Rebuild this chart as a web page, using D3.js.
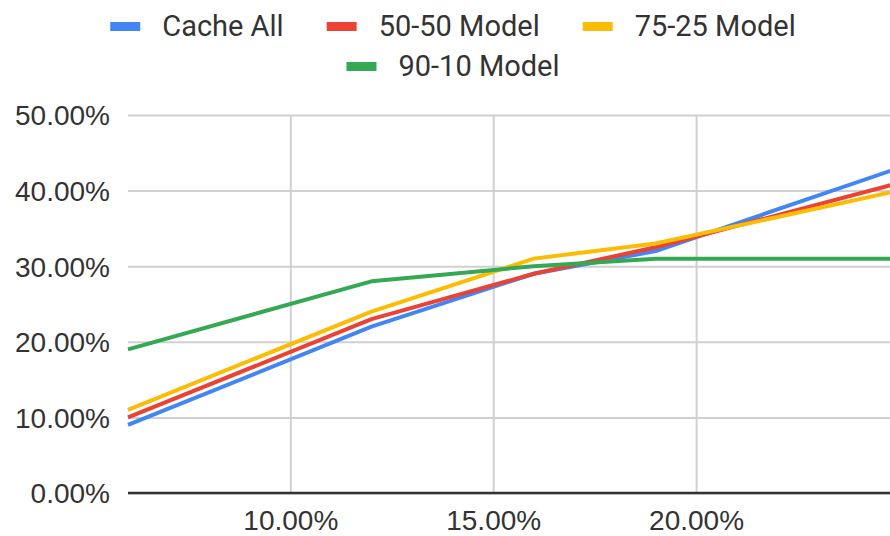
<!DOCTYPE html>
<html>
<head>
<meta charset="utf-8">
<script src="https://cdn.jsdelivr.net/npm/d3@7"></script>
<style>
    body { margin: 0; background: #fff; }
    svg { display: block; font-family: Roboto, Arial, sans-serif; }
    .grid line { stroke: #d0d0d0; stroke-width: 2; }
    .grid .domain { display: none; }
    .tick text { fill: #333; font-size: 28px; }
    .legend text { fill: #333; font-size: 29px; }
</style>
</head>
<body>
<div id="chart"></div>
<script>
// Cache size share (x) vs hit rate (y), both in percent
const cacheSizes = [6, 12, 16, 19, 25];
const cacheAll = [9, 22, 29, 32, 43];
const model5050 = [10, 23, 29, 32.5, 41];
const model7525 = [11, 24, 31, 33, 40];
const model9010 = [19, 28, 30, 31, 31];

const seriesNames = ["Cache All", "50-50 Model", "75-25 Model", "90-10 Model"];
const seriesColors = ["#4285f4", "#ea4335", "#fbbc04", "#34a853"];
const seriesValues = [cacheAll, model5050, model7525, model9010];

const xTicks = [10, 15, 20];
const yTicks = [0, 10, 20, 30, 40, 50];

// ---------- setup ----------
const width = 890;
const height = 536;

const svg = d3.select("#chart")
    .append("svg")
    .attr("width", width)
    .attr("height", height);

const xScale = d3.scaleLinear()
    .domain([6, 25])
    .range([128, 899]);

const yScale = d3.scaleLinear()
    .domain([0, 50])
    .range([493, 115]);

const pct = d => d.toFixed(2) + "%";

// horizontal gridlines + y labels
const yAxis = svg.append("g")
    .attr("class", "grid")
    .attr("transform", `translate(${xScale.range()[0]}, 0)`)
    .call(d3.axisLeft(yScale)
        .tickValues(yTicks)
        .tickSize(-(width - xScale.range()[0]))
        .tickPadding(18)
        .tickFormat(pct));

yAxis.selectAll(".tick text").attr("dy", "0.35em");

// vertical gridlines + x labels
const xAxis = svg.append("g")
    .attr("class", "grid")
    .attr("transform", `translate(0, ${yScale(0)})`)
    .call(d3.axisBottom(xScale)
        .tickValues(xTicks)
        .tickSize(-(yScale(0) - yScale(50)))
        .tickPadding(0)
        .tickFormat(pct));

xAxis.selectAll(".tick text").attr("dy", null).attr("y", 37);

// baseline
svg.append("line")
    .attr("x1", xScale.range()[0])
    .attr("x2", width)
    .attr("y1", yScale(0))
    .attr("y2", yScale(0))
    .attr("stroke", "#333")
    .attr("stroke-width", 2.5);

// ---------- lines ----------
const lineData = seriesNames.map((name, i) => ({
    name: name,
    color: seriesColors[i],
    values: cacheSizes.map((x, j) => ({ x: x, y: seriesValues[i][j] }))
}));

const lineGenerator = d3.line()
    .x(d => xScale(d.x))
    .y(d => yScale(d.y));

svg.append("g")
    .selectAll("path")
    .data(lineData)
    .enter()
    .append("path")
    .attr("fill", "none")
    .attr("stroke", d => d.color)
    .attr("stroke-width", 4)
    .attr("stroke-linejoin", "round")
    .attr("d", d => lineGenerator(d.values));

// ---------- legend ----------
const legend = svg.append("g").attr("class", "legend");
const legendRows = [[0, 1, 2], [3]];
const legendCenter = 453;
const rowBaselines = [36, 76];

legendRows.forEach((row, r) => {
    const items = row.map(i => {
        const g = legend.append("g");
        g.append("rect")
            .attr("width", 30)
            .attr("height", 9)
            .attr("y", -14)
            .attr("fill", seriesColors[i]);
        const t = g.append("text")
            .attr("x", 52)
            .text(seriesNames[i]);
        return { g: g, w: 52 + t.node().getComputedTextLength() };
    });
    const gap = 43;
    const total = d3.sum(items, d => d.w) + gap * (items.length - 1);
    let x = legendCenter - total / 2;
    items.forEach(item => {
        item.g.attr("transform", `translate(${x}, ${rowBaselines[r]})`);
        x += item.w + gap;
    });
});
</script>
</body>
</html>
